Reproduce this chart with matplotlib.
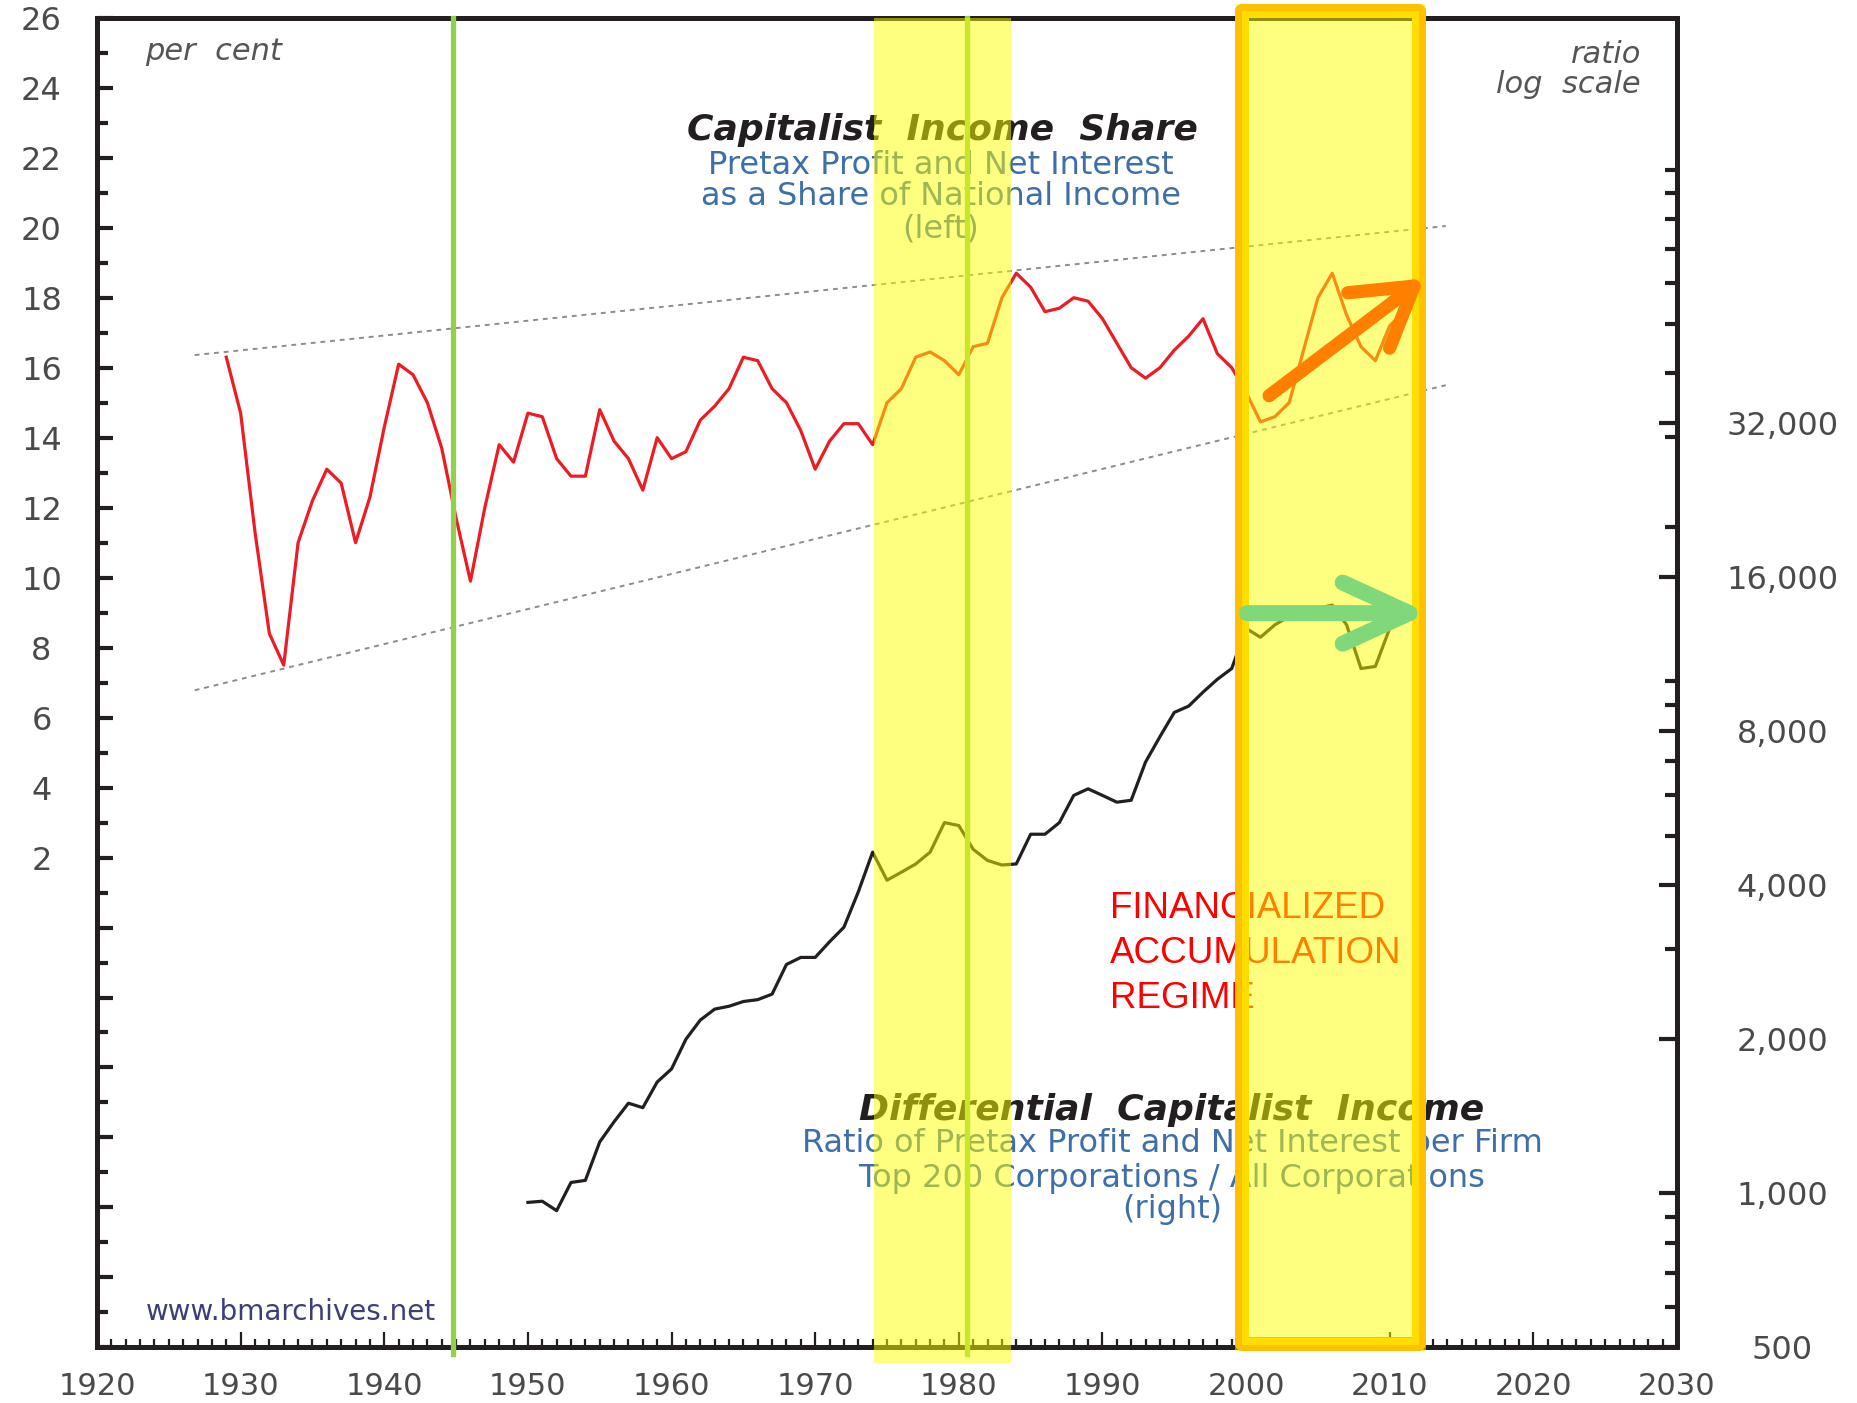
import matplotlib
matplotlib.use("Agg")
import matplotlib.pyplot as plt
import matplotlib.transforms as mtransforms
from matplotlib.patches import Rectangle, FancyArrowPatch, ArrowStyle
from matplotlib.ticker import FixedLocator, FuncFormatter

# ---------------- data ----------------
share_years = list(range(1929, 2012))
share_values = [16.3, 14.7, 11.3, 8.4, 7.5, 11.0, 12.2, 13.1, 12.7, 11.0,
                12.3, 14.3, 16.1, 15.8, 15.0, 13.7, 11.7, 9.9, 12.0, 13.8,
                13.3, 14.7, 14.6, 13.4, 12.9, 12.9, 14.8, 13.9, 13.4, 12.5,
                14.0, 13.4, 13.6, 14.5, 14.9, 15.4, 16.3, 16.2, 15.4, 15.0,
                14.2, 13.1, 13.9, 14.4, 14.4, 13.8, 15.0, 15.4, 16.3, 16.45,
                16.2, 15.8, 16.6, 16.7, 18.0, 18.7, 18.3, 17.6, 17.7, 18.0,
                17.9, 17.4, 16.7, 16.0, 15.7, 16.0, 16.5, 16.9, 17.4, 16.4,
                16.0, 15.3, 14.45, 14.6, 15.0, 16.5, 18.0, 18.7, 17.5, 16.6,
                16.2, 17.2, 17.6]

diff_years = list(range(1950, 2011))
diff_values = [960, 965, 925, 1050, 1060, 1260, 1380, 1500, 1470, 1650,
               1750, 2000, 2180, 2290, 2320, 2370, 2390, 2450, 2800, 2890,
               2890, 3100, 3310, 3880, 4640, 4090, 4240, 4400, 4640, 5300,
               5230, 4700, 4470, 4380, 4400, 5030, 5030, 5300, 5990, 6170,
               5990, 5810, 5860, 6960, 7800, 8700, 8950, 9530, 10100, 10600,
               12700, 12200, 12900, 13400, 13700, 13900, 14100, 12900, 10600, 10700,
               12700]

trend_years = [1926.8, 2013.9]
trend_upper = [16.36, 20.05]
trend_lower = [6.78, 15.5]

x_major = list(range(1920, 2031, 10))
x_minor = list(range(1920, 2031))
left_major = list(range(-12, 27, 2))
left_minor = list(range(-12, 27))
right_major = [500, 1000, 2000, 4000, 8000, 16000, 32000]
right_minor = [k * 10 ** e for e in range(2, 6) for k in range(1, 10)
               if 500 <= k * 10 ** e <= 198000]

# ---------------- layout ----------------
W, H = 1858, 1403
fig = plt.figure(figsize=(W / 100, H / 100), dpi=100)
L, R, T, B = 97, 1677, 17.8, 1347.4
ax = fig.add_axes([L / W, 1 - B / H, (R - L) / W, (B - T) / H])
ax2 = ax.twinx()


def fx(px):
    return (px - L) / (R - L)


def fy(py):
    return (B - py) / (B - T)


ppx = (R - L) / 110.0
INK = '#231F20'
GRAY = '#4a4a4a'
BLUE = '#3F6FA8'

ax.set_xlim(1920, 2030)
ax.set_ylim(-12, 26)
ax2.set_yscale('log')
ax2.set_ylim(500, 198000)

# ---------------- data lines ----------------
ax.plot(trend_years, trend_upper, color='#8c8c8c', lw=1.4, ls=(0, (2.5, 2.5)), zorder=1)
ax.plot(trend_years, trend_lower, color='#8c8c8c', lw=1.4, ls=(0, (2.5, 2.5)), zorder=1)
ax.plot(share_years, share_values, color='#ED1C24', lw=2.3, zorder=2)
ax2.plot(diff_years, diff_values, color=INK, lw=2.3, zorder=2)

# ---------------- ticks ----------------
ax.xaxis.set_major_locator(FixedLocator(x_major))
ax.xaxis.set_minor_locator(FixedLocator(x_minor))
ax.tick_params(axis='x', which='major', direction='in', length=11, width=1.6,
               labelsize=22, labelcolor=GRAY, pad=18, color=INK)
ax.tick_params(axis='x', which='minor', direction='in', length=5.5, width=1.6, color=INK)

ax.yaxis.set_major_locator(FixedLocator(left_major))
ax.yaxis.set_minor_locator(FixedLocator(left_minor))
ax.yaxis.set_major_formatter(FuncFormatter(lambda v, p: f"{int(v)}" if v >= 2 else ""))
ax.tick_params(axis='y', which='major', direction='in', length=11.5, width=3,
               labelsize=23, labelcolor=GRAY, pad=40, color=INK)
ax.tick_params(axis='y', which='minor', direction='in', length=8, width=3, color=INK)

ax2.yaxis.set_major_locator(FixedLocator(right_major))
ax2.yaxis.set_minor_locator(FixedLocator(right_minor))
ax2.yaxis.set_major_formatter(FuncFormatter(lambda v, p: f"{int(round(v)):,}"))
ax2.yaxis.set_minor_formatter(FuncFormatter(lambda v, p: ""))
ax2.tick_params(axis='y', which='major', direction='in', length=13, width=3,
                labelsize=23, labelcolor=GRAY, pad=76, color=INK)
ax2.tick_params(axis='y', which='minor', direction='in', length=9, width=3, color=INK)

for lab in ax.get_yticklabels():
    lab.set_horizontalalignment('center')
for lab in ax2.get_yticklabels():
    lab.set_horizontalalignment('center')

for s in ax.spines.values():
    s.set_linewidth(3.6)
    s.set_color(INK)
for s in ax2.spines.values():
    s.set_visible(False)

# ---------------- texts (under the highlight overlays) ----------------
ax2.text(fx(145), fy(60), "per  cent", transform=ax2.transAxes, fontsize=22,
         style='italic', color='#555555', ha='left', va='baseline', zorder=3)
ax2.text(fx(1641), fy(63), "ratio", transform=ax2.transAxes, fontsize=22,
         style='italic', color='#555555', ha='right', va='baseline', zorder=3)
ax2.text(fx(1641), fy(93), "log  scale", transform=ax2.transAxes, fontsize=22,
         style='italic', color='#555555', ha='right', va='baseline', zorder=3)

ax2.text(fx(942), fy(140), "Capitalist  Income  Share", transform=ax2.transAxes,
         fontsize=26, fontweight='bold', style='italic', color=INK,
         ha='center', va='baseline', zorder=3)
for txt, yb in [("Pretax Profit and Net Interest", 174),
                ("as a Share of National Income", 205),
                ("(left)", 237)]:
    ax2.text(fx(941), fy(yb), txt, transform=ax2.transAxes, fontsize=23,
             color=BLUE, ha='center', va='baseline', zorder=3)

ax2.text(fx(1172), fy(1120), "Differential  Capitalist  Income", transform=ax2.transAxes,
         fontsize=26, fontweight='bold', style='italic', color=INK,
         ha='center', va='baseline', zorder=3)
for txt, yb in [("Ratio of Pretax Profit and Net Interest per Firm", 1152),
                ("Top 200 Corporations / All Corporations", 1187),
                ("(right)", 1218)]:
    ax2.text(fx(1172), fy(yb), txt, transform=ax2.transAxes, fontsize=23,
             color=BLUE, ha='center', va='baseline', zorder=3)

ax2.text(fx(146), fy(1320), "www.bmarchives.net", transform=ax2.transAxes,
         fontsize=20, color='#3D3D7A', ha='left', va='baseline', zorder=3)

for txt, yb in [("FINANCIALIZED", 918), ("ACCUMULATION", 963), ("REGIME", 1008)]:
    ax2.text(fx(1110), fy(yb), txt, transform=ax2.transAxes, fontsize=26.5,
             family='Liberation Sans', color='#FF0000', ha='left', va='baseline', zorder=3)

# ---------------- vertical markers and highlight bands ----------------
ax2.axvline(1944.8, ymin=fy(1354), ymax=1, color='#92D050', lw=3.8, zorder=4, clip_on=False)
ax2.axvline(1980.6, ymin=fy(1354), ymax=1, color='#92D050', lw=3.8, zorder=4, clip_on=False)
ax2.axvspan(1974.1, 1983.6, ymin=fy(1363), ymax=1, facecolor='#FFFF00', alpha=0.5,
            lw=0, zorder=5, clip_on=False)

trans = mtransforms.blended_transform_factory(ax2.transData, ax2.transAxes)
bx0, bx1 = 1999.2, 2012.5
btop, bbot = 3.5, 1351.0


def box_rect(inset, **kw):
    return Rectangle((bx0 + inset / ppx, fy(bbot - inset)),
                     (bx1 - bx0) - 2 * inset / ppx,
                     fy(btop + inset) - fy(bbot - inset),
                     transform=trans, clip_on=False, **kw)


ax2.add_artist(box_rect(0, facecolor='#FFFF00', alpha=0.5, lw=0, zorder=5))
ax2.add_artist(box_rect(7, fill=False, edgecolor='#FFC000', lw=14 * 0.72,
                        joinstyle='round', zorder=6))
ax2.add_artist(box_rect(10.5, fill=False, edgecolor='#FFDD00', lw=7 * 0.72,
                        joinstyle='miter', zorder=7))

# ---------------- arrows ----------------
orange_arrow = FancyArrowPatch((2001.6, 15.2), (2012.4, 18.55), transform=ax.transData,
                               arrowstyle=ArrowStyle('->', head_length=41, head_width=25),
                               mutation_scale=1, lw=9.5, color='#FF8000',
                               capstyle='round', joinstyle='round',
                               shrinkA=0, shrinkB=0, zorder=10, clip_on=False)
ax2.add_artist(orange_arrow)
green_arrow = FancyArrowPatch((2000.06, 13600), (2012.7, 13600), transform=ax2.transData,
                              arrowstyle=ArrowStyle('->', head_length=48, head_width=22),
                              mutation_scale=1, lw=11.5, color='#80D87A',
                              capstyle='round', joinstyle='round',
                              shrinkA=0, shrinkB=0, zorder=10, clip_on=False)
ax2.add_artist(green_arrow)

fig.savefig("out.png", dpi=100)
